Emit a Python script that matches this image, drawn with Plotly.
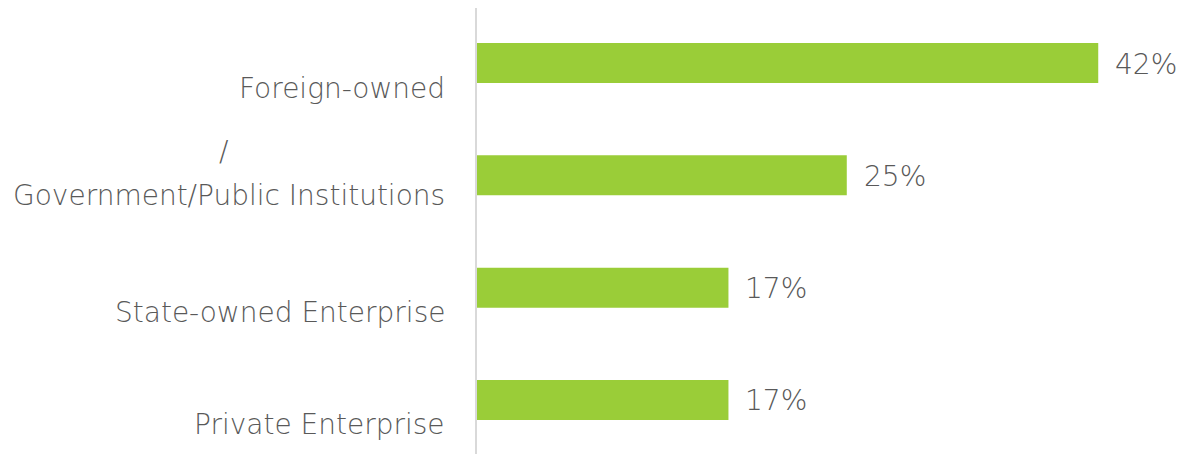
import plotly.graph_objects as go

categories = ["Foreign-owned", "Government/Public Institutions", "State-owned Enterprise", "Private Enterprise"]
values = [42, 25, 17, 17]
value_labels = ["42%", "25%", "17%", "17%"]
extra_line = "/"  # stray line shown above the second category label

BAR_COLOR = "#9ACD38"
TEXT_COLOR = "#595959"
FONT = "DejaVu Sans ExtraLight, DejaVu Sans"
FSIZE = 28

fig = go.Figure()
fig.add_trace(go.Bar(
    x=values, y=categories, orientation="h",
    marker=dict(color=BAR_COLOR, line=dict(width=0)),
    width=0.356, hoverinfo="skip",
))

annotations = []
for i, (cat, val, lab) in enumerate(zip(categories, values, value_labels)):
    shift = -20 if i == 1 else -25
    annotations.append(dict(
        x=0, y=cat, xref="x", yref="y", text=cat, showarrow=False,
        xanchor="right", yanchor="middle", xshift=-30, yshift=shift,
        font=dict(family=FONT, size=FSIZE, color=TEXT_COLOR, weight=200),
    ))
    annotations.append(dict(
        x=val, y=cat, xref="x", yref="y", text=lab, showarrow=False,
        xanchor="left", yanchor="middle", xshift=15, yshift=-1,
        font=dict(family=FONT, size=FSIZE, color=TEXT_COLOR, weight=200),
    ))
annotations.append(dict(
    x=0, y=categories[1], xref="x", yref="y", text=extra_line, showarrow=False,
    xanchor="center", yanchor="middle", xshift=-254, yshift=24,
    font=dict(family=FONT, size=FSIZE, color=TEXT_COLOR, weight=200),
))

fig.update_layout(
    width=1192, height=454,
    margin=dict(l=469, r=0, t=0, b=0),
    paper_bgcolor="white", plot_bgcolor="white",
    showlegend=False,
    annotations=annotations,
    xaxis=dict(range=[0, 48.88], visible=False, showgrid=False, zeroline=False),
    yaxis=dict(
        type="category", categoryorder="array", categoryarray=categories,
        range=[3.552, -0.4896], showticklabels=False, ticks="",
        showline=True, linecolor="#D9D9D9", linewidth=2,
        showgrid=False, zeroline=False,
    ),
)

fig.write_html("out.html")
